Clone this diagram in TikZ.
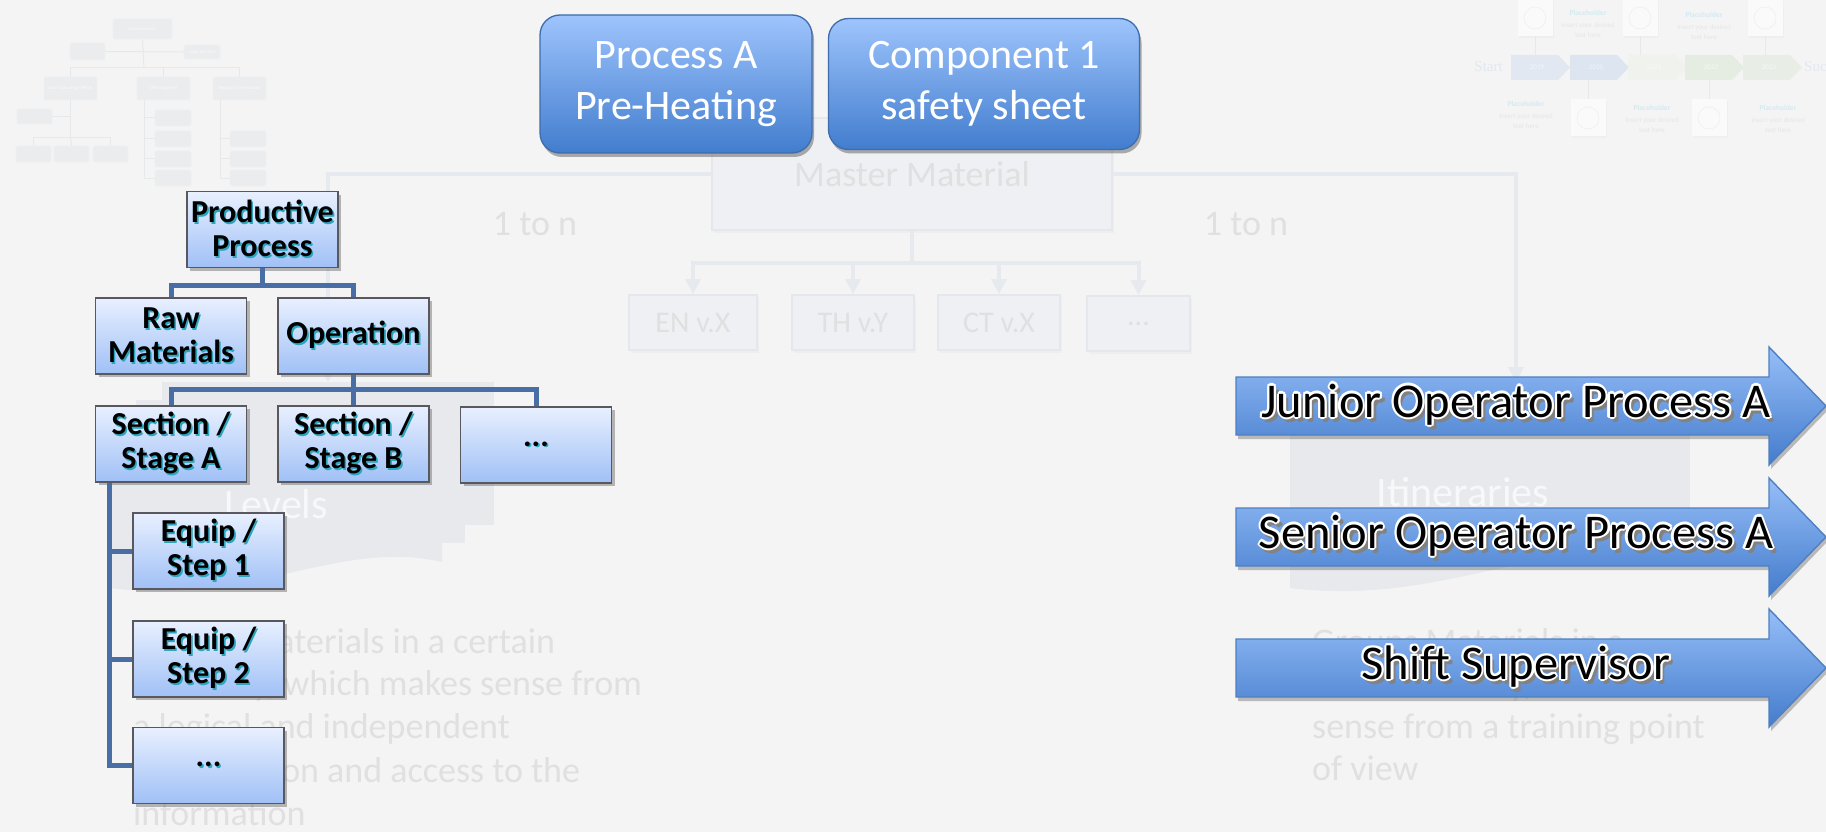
\documentclass[tikz,border=0pt]{standalone}
\usepackage{fontspec}
\setmainfont{Carlito}
\newfontfamily\tlserif{Liberation Serif}
\usetikzlibrary{shadows,arrows.meta}

% palette
\definecolor{bgc}{RGB}{244,244,244}
\definecolor{ocfill}{RGB}{235,236,238}
\definecolor{ocedge}{RGB}{239,240,242}
\definecolor{ocline}{RGB}{231,232,234}
\definecolor{octext}{RGB}{250,250,250}
\definecolor{tl1}{RGB}{225,232,241}
\definecolor{tl2}{RGB}{221,229,240}
\definecolor{tl3}{RGB}{239,242,237}
\definecolor{tl4}{RGB}{229,237,227}
\definecolor{tl5}{RGB}{232,238,230}
\definecolor{tltext}{RGB}{230,230,230}
\definecolor{tlhead}{RGB}{212,234,241}
\definecolor{iconline}{RGB}{238,239,241}
\definecolor{fadeline}{RGB}{230,233,238}
\definecolor{fadefill}{RGB}{238,240,244}
\definecolor{fadeedge}{RGB}{228,231,236}
\definecolor{fadetext}{RGB}{224,224,224}
\definecolor{stackfill}{RGB}{231,233,237}
\definecolor{blutop}{RGB}{158,196,252}
\definecolor{blubot}{RGB}{66,125,206}
\definecolor{bluedge}{RGB}{62,108,172}
\definecolor{treetop}{RGB}{232,240,255}
\definecolor{treebot}{RGB}{160,192,246}
\definecolor{treeedge}{RGB}{88,88,94}
\definecolor{treelink}{RGB}{72,110,165}
\definecolor{tshadow}{RGB}{45,165,190}
\definecolor{arrtop}{RGB}{150,190,248}
\definecolor{arrbot}{RGB}{68,124,204}
\definecolor{arredge}{RGB}{78,128,194}
\definecolor{oshadow}{RGB}{130,130,130}

\newcommand\fs[2]{\fontsize{#1}{#2}\selectfont}
% text copy shifted by (#1,#2) in colour #3
\newcommand\offtxt[4]{\rlap{\kern#1\raisebox{#2}{\textcolor{#3}{#4}}}}
% bold label with a coloured shadow
\newcommand\shtxt[1]{\offtxt{1.6pt}{-1.6pt}{tshadow}{#1}#1}
% black label with white outline and grey shadow
\newcommand\otl[1]{%
  \offtxt{3pt}{-4pt}{oshadow}{#1}\offtxt{4.5pt}{-4pt}{oshadow}{#1}\offtxt{3pt}{-5.5pt}{oshadow}{#1}%
  \offtxt{2.2pt}{0pt}{white}{#1}\offtxt{-2.2pt}{0pt}{white}{#1}%
  \offtxt{0pt}{2.2pt}{white}{#1}\offtxt{0pt}{-2.2pt}{white}{#1}%
  \offtxt{1.6pt}{1.6pt}{white}{#1}\offtxt{-1.6pt}{1.6pt}{white}{#1}%
  \offtxt{1.6pt}{-1.6pt}{white}{#1}\offtxt{-1.6pt}{-1.6pt}{white}{#1}%
  #1}

\begin{document}
\begin{tikzpicture}[x=1pt,y=-1pt,
  ocbox/.style={fill=ocfill, draw=ocedge, line width=0.8pt, rounded corners=2pt, inner sep=0pt, align=center, text=octext, font=\fs{4.8}{5.5}},
  oclink/.style={draw=ocline, line width=1pt},
  iconbox/.style={fill=white!50!bgc, draw=none, minimum width=35pt, minimum height=37pt, drop shadow={opacity=0.04, shadow xshift=1pt, shadow yshift=-1.5pt}},
  tlsmall/.style={font=\fs{7}{8}, text=tltext, inner sep=0pt},
  tlhd/.style={font=\fs{7.5}{8}\bfseries, text=tlhead, inner sep=0pt},
  fadelink/.style={draw=fadeline, line width=4pt},
  fadearrow/.style={fadelink, -{Triangle[width=15pt,length=15pt]}},
  fadebox/.style={draw=fadeedge, line width=2pt, fill=fadefill, inner sep=0pt, text=fadetext, drop shadow={opacity=0.05, shadow xshift=2pt, shadow yshift=-3pt}},
  ptext/.style={font=\fs{36}{43}, text=fadetext, inner sep=0pt},
  stacklayer/.style={fill=stackfill, draw=none},
  stacktext/.style={font=\fs{42}{50}, text=white!70!stackfill, inner sep=0pt},
  bluebox/.style={draw=bluedge, line width=1.3pt, rounded corners=20pt, top color=blutop, bottom color=blubot, text=white, align=center, inner sep=0pt, font=\fs{42}{51}, drop shadow={opacity=0.45, shadow xshift=2pt, shadow yshift=-4pt, fill=black!70}},
  treebox/.style={draw=treeedge, line width=1.3pt, top color=treetop, bottom color=treebot, minimum width=151pt, minimum height=76pt, inner sep=0pt, align=center, font=\fs{32}{34}\bfseries, drop shadow={shadow xshift=3pt, shadow yshift=-3pt, opacity=0.45, fill=black!60}},
  treelk/.style={draw=treelink, line width=5pt},
  roleshape/.style={draw=arredge, line width=1.4pt, top color=arrtop, bottom color=arrbot, drop shadow={opacity=0.35, shadow xshift=2pt, shadow yshift=-4pt, fill=black!70}},
  roletext/.style={font=\fs{48.5}{56}, inner sep=0pt}
]
\path[fill=bgc] (0,0) rectangle (1826,832);
\useasboundingbox (0,0) rectangle (1826,832);

% ---------- small organisation chart, top left ----------
\node[ocbox, minimum width=59pt, minimum height=20pt] (comm) at (142.5,29) {Commissioner};
\node[ocbox, minimum width=35pt, minimum height=17pt] (ocb1) at (87.5,51.5) {};
\node[ocbox, minimum width=36pt, minimum height=14pt] (ocb2) at (202,52) {Legal Services};
\node[ocbox, minimum width=53pt, minimum height=23pt] (coo) at (70.5,88.5) {Chief Operating Officer};
\node[ocbox, minimum width=53pt, minimum height=23pt] (ceng) at (163.5,88.5) {Chief Engineer};
\node[ocbox, minimum width=53pt, minimum height=23pt] (dep) at (239.5,88.5) {Deputy Commissioner};
\node[ocbox, minimum width=35pt, minimum height=15pt] (ocd1) at (34.5,116.5) {};
\node[ocbox, minimum width=35pt, minimum height=16pt] (oce1) at (33.5,154) {};
\node[ocbox, minimum width=35pt, minimum height=16pt] (oce2) at (71.5,154) {};
\node[ocbox, minimum width=35pt, minimum height=16pt] (oce3) at (110.5,154) {};
\foreach \yy [count=\i] in {118,139,159,178}
  \node[ocbox, minimum width=36pt, minimum height=16pt] (ocf\i) at (173,\yy) {};
\foreach \yy [count=\i] in {139,159,178}
  \node[ocbox, minimum width=36pt, minimum height=16pt] (ocg\i) at (248,\yy) {};
\draw[oclink] (comm.south) -- (144,68);
\draw[oclink] (ocb1.east) -- (ocb2.west);
\draw[oclink] (coo.north) -- ++(0,-9) -| (dep.north);
\draw[oclink] (ceng.north) -- ++(0,-9);
\draw[oclink] (coo.south) -- ++(0,37) coordinate (ocj1);
\draw[oclink] (ocd1.east) -- (ocd1.east -| coo.south);
\draw[oclink] (oce1.north) |- (ocj1) -| (oce3.north);
\draw[oclink] (ocj1) -- (oce2.north);
\draw[oclink] (144,100) |- (ocf4.west);
\foreach \i in {1,2,3} \draw[oclink] (ocf\i.west) -- (ocf\i.west -| 144,0);
\draw[oclink] (220,100) |- (ocg3.west);
\foreach \i in {1,2} \draw[oclink] (ocg\i.west) -- (ocg\i.west -| 220,0);

% ---------- small timeline, top right ----------
\foreach \x/\c/\yr [count=\i] in {1511/tl1/2019,1570/tl2/2020,1628/tl3/2021,1685/tl4/2022,1743/tl5/2023}{
  \path[fill=\c] (\x,55) -- (\x+47,55) -- (\x+59,67.5) -- (\x+47,80) -- (\x,80) -- cycle;
  \node[font=\fs{7}{8}, text=white!60!\c, inner sep=0pt] (yr\i) at (\x+26,67.5) {\yr};
}
\node[font=\tlserif\fs{15}{17}, text=tl1, anchor=base east, inner sep=0pt] (tlstart) at (1503,72) {Start};
\node[font=\tlserif\fs{15}{17}, text=tl1, anchor=base west, inner sep=0pt] (tlend) at (1804,72) {Success};
\foreach \cx/\cy/\ly/\ry [count=\i] in {1535/18/37/55,1640/18/37/55,1765/18/37/55,1588/118/100/80,1709/118/100/80}{
  \draw[draw=ocline, line width=0.8pt] (\cx,\ly) -- (\cx,\ry);
  \node[iconbox] (icon\i) at (\cx,\cy) {};
  \draw[draw=iconline, line width=0.6pt] (icon\i.center) circle (11pt);
}
\foreach \cx/\cy [count=\i] in {1588/13,1704/15,1526/104,1652/108,1778/108}{
  \node[tlhd] (ph\i) at (\cx,\cy) {Placeholder};
  \node[tlsmall] (pt\i) at (\cx,\cy+13) {Insert your desired};
  \node[tlsmall] (pu\i) at (\cx,\cy+22) {text here};
}

% ---------- master material and its versions ----------
\node[fadebox, minimum width=400pt, minimum height=112pt, font=\fs{36}{43}] (mm) at (912,174) {Master Material};
\node[fadebox, minimum width=128pt, minimum height=55pt, font=\fs{30}{36}] (en) at (693,322.5) {EN v.X};
\node[fadebox, minimum width=122pt, minimum height=55pt, font=\fs{30}{36}] (th) at (853,322.5) {TH v.Y};
\node[fadebox, minimum width=122pt, minimum height=55pt, font=\fs{30}{36}] (ct) at (999,322.5) {CT v.X};
\node[fadebox, minimum width=103pt, minimum height=55pt, font=\fs{30}{36}] (vd) at (1138.5,323.5) {...};
\draw[fadelink] (mm.south) -- ++(0,32) coordinate (hub);
\foreach \b in {en,th,ct,vd} \draw[fadearrow] (hub) -| (\b.north);

% stacked documents: Levels
\path[stacklayer] (162,382) rectangle (494,525);
\path[stacklayer] (136,400) rectangle (465,543);
\path[stacklayer] (110,418) -- (442,418) -- (442,562) .. controls (340,538) and (250,606) .. (110,588) -- cycle;
\coordinate (lvtop) at (328,382);
\node[stacktext] (levels) at (276,504) {Levels};
% stacked documents: Itineraries
\path[stacklayer] (1342,382) rectangle (1690,525);
\path[stacklayer] (1316,400) rectangle (1664,543);
\path[stacklayer] (1290,418) -- (1638,418) -- (1638,562) .. controls (1530,538) and (1440,606) .. (1290,588) -- cycle;
\coordinate (ittop) at (1516,382);
\node[stacktext] (itin) at (1463,492) {Itineraries};

\draw[fadearrow] (mm.west) -| (lvtop);
\draw[fadearrow] (mm.east) -| (ittop);
\node[ptext] (ratio1) at (535,224) {1 to n};
\node[ptext] (ratio2) at (1246,224) {1 to n};

% descriptions
\node[ptext, anchor=base west] (dl1) at (133,653) {Groups Materials in a certain};
\node[ptext, anchor=base west] (dl2) at (133,695) {hierarchy, which makes sense from};
\node[ptext, anchor=base west] (dl3) at (133,738) {a logical and independent};
\node[ptext, anchor=base west] (dl4) at (133,782) {classification and access to the};
\node[ptext, anchor=base west] (dl5) at (133,825) {information};
\node[ptext, anchor=base west] (dr1) at (1312,653) {Groups Materials in a};
\node[ptext, anchor=base west] (dr2) at (1312,695) {functional way, which makes};
\node[ptext, anchor=base west] (dr3) at (1312,738) {sense from a training point};
\node[ptext, anchor=base west] (dr4) at (1312,780) {of view};

% ---------- process / component badges ----------
\node[bluebox, minimum width=272pt, minimum height=138pt] (proc) at (676,84) {Process A\\Pre-Heating};
\node[bluebox, minimum width=311pt, minimum height=131pt] (comp) at (984,84) {Component 1\\safety sheet};

% ---------- productive process tree ----------
\node[treebox] (pp) at (262.5,229.5) {\shtxt{Productive}\\\shtxt{Process}};
\node[treebox] (rm) at (171,336) {\shtxt{Raw}\\\shtxt{Materials}};
\node[treebox] (op) at (353.5,336) {\shtxt{Operation}};
\node[treebox] (sa) at (171,444) {\shtxt{Section /}\\\shtxt{Stage A}};
\node[treebox] (sb) at (353.5,444) {\shtxt{Section /}\\\shtxt{Stage B}};
\node[treebox] (sd) at (536,445) {\shtxt{...}};
\node[treebox] (e1) at (208.5,551) {\shtxt{Equip /}\\\shtxt{Step 1}};
\node[treebox] (e2) at (208.5,659) {\shtxt{Equip /}\\\shtxt{Step 2}};
\node[treebox] (e3) at (208.5,765.5) {\shtxt{...}};

\draw[treelk] (pp.south) -- ++(0,17) coordinate (j1);
\draw[treelk] (rm.north) |- (j1) -| (op.north);
\draw[treelk] (op.south) -- ++(0,15) coordinate (j2);
\draw[treelk] (sa.north) |- (j2) -| (sd.north);
\draw[treelk] (j2) -- (sb.north);
\coordinate (t0) at ([xshift=15pt]sa.south west);
\draw[treelk] (t0) |- (e3.west);
\draw[treelk] (t0 |- e1.west) -- (e1.west);
\draw[treelk] (t0 |- e2.west) -- (e2.west);

% ---------- role arrows ----------
\foreach \cy/\nm/\txt in {406/junior/Junior Operator Process A,537/senior/Senior Operator Process A,668/shift/Shift Supervisor}{
  \path[roleshape] (1236,\cy-29) -- (1769,\cy-29) -- (1769,\cy-59) -- (1826,\cy) -- (1769,\cy+59) -- (1769,\cy+29) -- (1236,\cy+29) -- cycle;
  \node[roletext] (\nm) at (1516,\cy) {\otl{\txt}};
}
\end{tikzpicture}
\end{document}
